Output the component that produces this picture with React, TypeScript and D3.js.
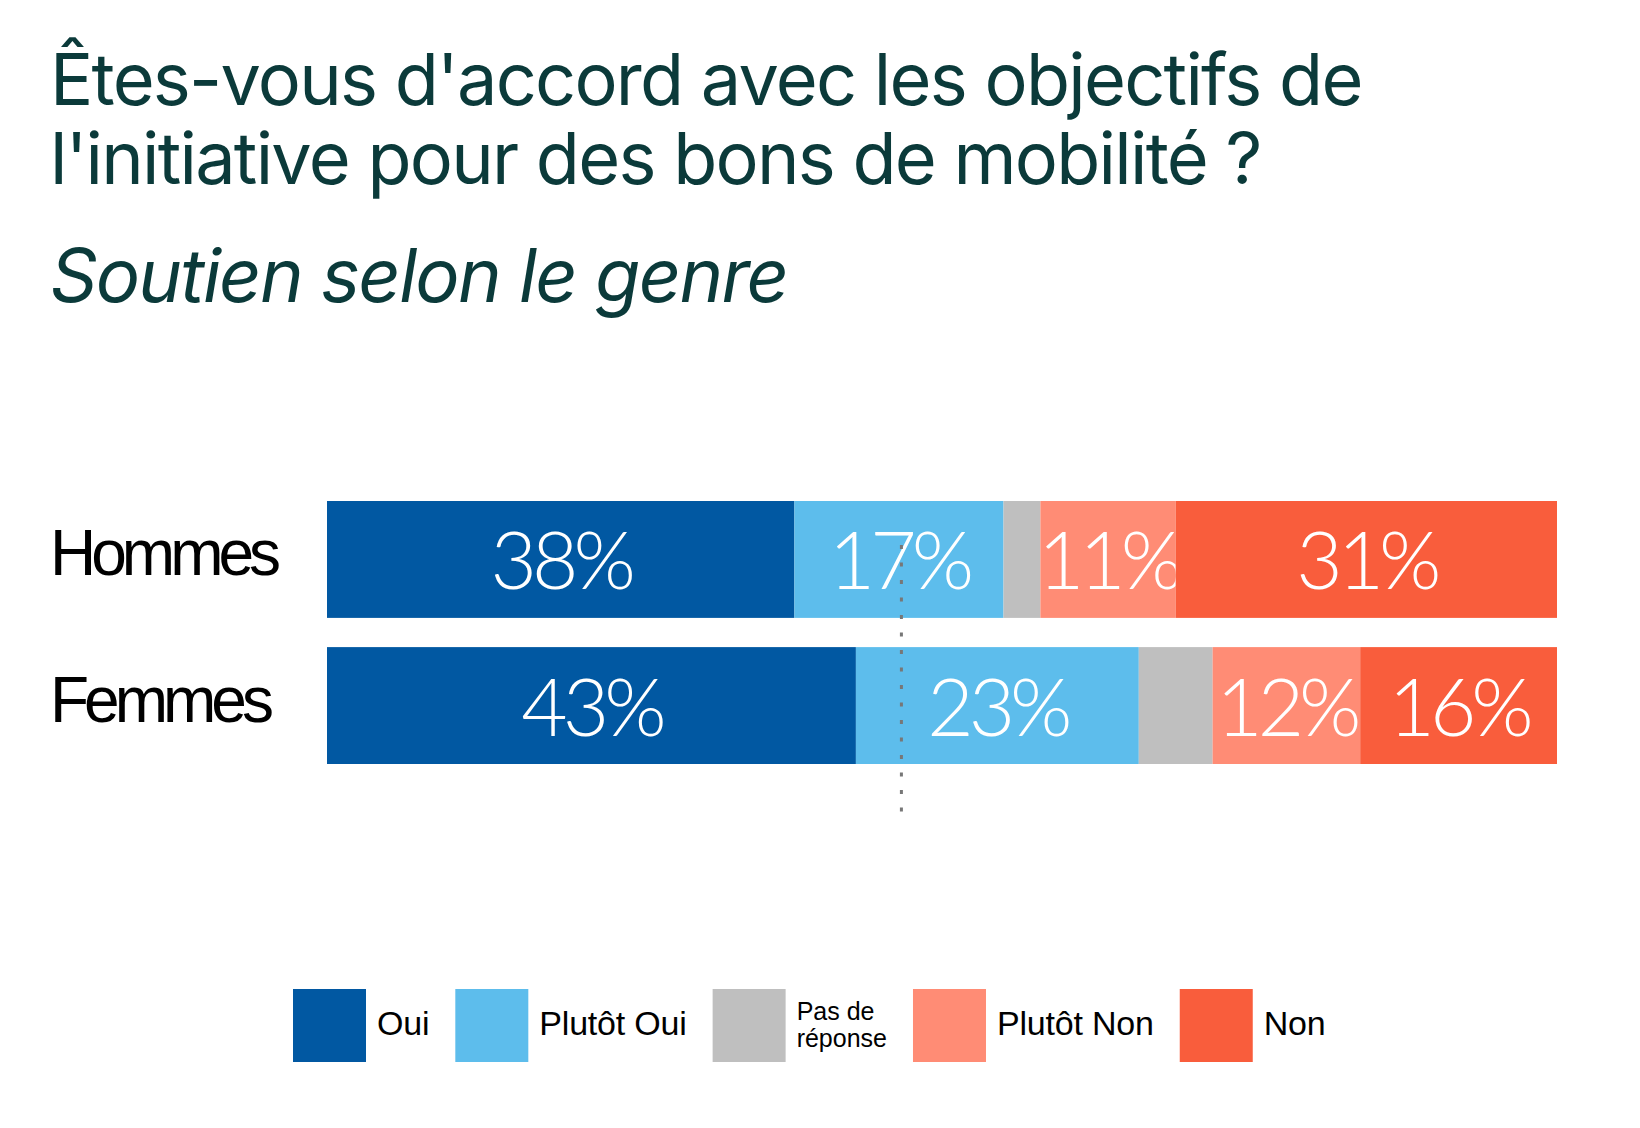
import React, { useEffect, useRef } from "react";
import * as d3 from "d3";

const categories = ["Hommes", "Femmes"];
const responses = ["Oui", "Plutôt Oui", "Pas de réponse", "Plutôt Non", "Non"];
const oui = [38, 43];
const plutotOui = [17, 23];
const sansReponse = [3, 6];
const plutotNon = [11, 12];
const non = [31, 16];
const responseColors = ["#0158a2", "#5dbdec", "#bfbfbf", "#ff8c75", "#f95d3c"];
const majorityMark = 46.7;

const titleLines = ["Êtes-vous d'accord avec les objectifs de", "l'initiative pour des bons de mobilité ?"];
const subtitle = "Soutien selon le genre";

const App: React.FC = () => {
	const ref = useRef<SVGSVGElement | null>(null);

	useEffect(() => {
		document.body.style.margin = "0";
		const svg = d3.select(ref.current);
		svg.selectAll("*").remove();

		const width = 1640;
		const height = 1128;
		svg.attr("width", width).attr("height", height);

		const series = [oui, plutotOui, sansReponse, plutotNon, non];
		const table = categories.map((c, i) => {
			const row: any = { category: c };
			responses.forEach((r, j) => (row[r] = series[j][i]));
			return row;
		});
		const stacked = d3.stack<any>().keys(responses)(table);

		const x = d3.scaleLinear().domain([0, 100]).range([327, 1557]);
		const y = d3.scaleBand().domain(categories).range([501, 764]).paddingInner(0.2);
		const color = d3.scaleOrdinal<string, string>().domain(responses).range(responseColors);

		// titre
		const title = svg.append("g").attr("fill", "#0b3a3a").style("font-family", "Inter, 'Noto Sans', sans-serif");
		title
			.selectAll("text.line")
			.data(titleLines)
			.enter()
			.append("text")
			.attr("class", "line")
			.attr("x", 50)
			.attr("y", (d, i) => 105 + i * 79)
			.style("font-size", "72px")
			.style("letter-spacing", "-1.75px")
			.text((d) => d);
		title
			.append("text")
			.attr("x", 50)
			.attr("y", 302)
			.style("font-size", "74px")
			.style("font-style", "italic")
			.style("letter-spacing", "-1.75px")
			.text(subtitle);

		// barres
		const layers = svg
			.append("g")
			.selectAll("g.layer")
			.data(stacked)
			.enter()
			.append("g")
			.attr("class", "layer")
			.attr("fill", (d) => color(d.key));

		layers
			.selectAll("rect")
			.data((d) => d)
			.enter()
			.append("rect")
			.attr("x", (d) => x(d[0]))
			.attr("y", (d) => y(d.data.category) || 0)
			.attr("width", (d) => x(d[1]) - x(d[0]))
			.attr("height", y.bandwidth());

		// valeurs
		layers
			.selectAll("text")
			.data((d) => d.filter((s) => s[1] - s[0] >= 10))
			.enter()
			.append("text")
			.attr("x", (d) => (x(d[0]) + x(d[1])) / 2)
			.attr("y", (d) => (y(d.data.category) || 0) + y.bandwidth() / 2 + 30)
			.attr("text-anchor", "middle")
			.attr("fill", "#fff")
			.style("font-family", "Lato, Roboto, sans-serif")
			.style("font-weight", 300)
			.style("font-size", "80px")
			.style("letter-spacing", "-5px")
			.text((d) => `${d[1] - d[0]}%`);

		// libellés des lignes
		svg.append("g")
			.selectAll("text")
			.data(categories)
			.enter()
			.append("text")
			.attr("x", 50)
			.attr("y", (d) => (y(d) || 0) + y.bandwidth() / 2 + 16)
			.attr("fill", "#000")
			.style("font-family", "'Liberation Sans', Arial, sans-serif")
			.style("font-size", "64px")
			.style("letter-spacing", "-5px")
			.text((d) => d);

		// ligne pointillée
		svg.append("line")
			.attr("x1", x(majorityMark))
			.attr("x2", x(majorityMark))
			.attr("y1", 545)
			.attr("y2", 818)
			.attr("stroke", "#777")
			.attr("stroke-width", 3)
			.attr("stroke-dasharray", "4 13.5");

		// légende
		const legend = svg.append("g").attr("transform", "translate(293, 989)");
		const box = 73;
		let cursor = 0;
		responses.forEach((r) => {
			const item = legend.append("g").attr("transform", `translate(${cursor},0)`);
			item.append("rect").attr("width", box).attr("height", box).attr("fill", color(r));
			const label = item
				.append("text")
				.attr("x", box + 11)
				.attr("fill", "#000")
				.style("font-family", "'Liberation Sans', Arial, sans-serif");
			if (r === "Pas de réponse") {
				label.style("font-size", "25px");
				label.append("tspan").attr("x", box + 11).attr("y", 31).text("Pas de");
				label.append("tspan").attr("x", box + 11).attr("y", 58).text("réponse");
			} else {
				label.attr("y", 46).style("font-size", "34px").style("letter-spacing", "-0.2px").text(r);
			}
			const w = (label.node() as SVGTextElement).getBBox().width;
			cursor += box + 11 + w + 26;
		});
	}, []);

	return <svg ref={ref} style={{ display: "block" }} />;
};

export default App;
